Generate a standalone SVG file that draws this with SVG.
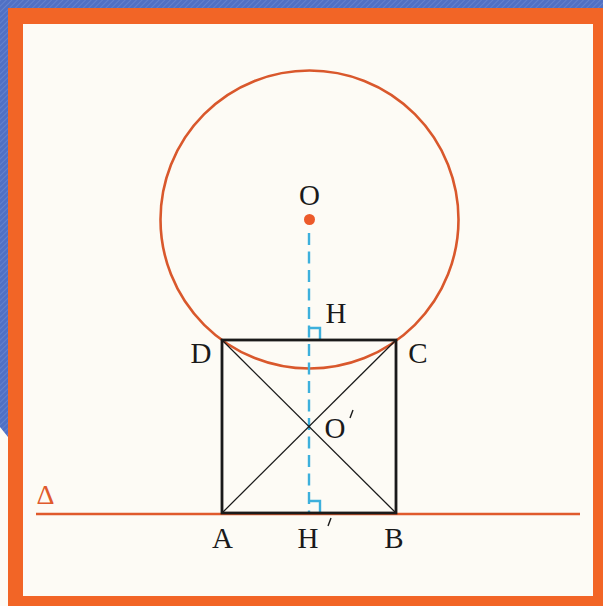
<svg xmlns="http://www.w3.org/2000/svg" width="603" height="606" viewBox="0 0 603 606">
<defs>
<pattern id="hatch" width="4" height="4" patternUnits="userSpaceOnUse" patternTransform="rotate(45)">
<rect width="4" height="4" fill="#5070c4"/>
<line x1="0" y1="0" x2="0" y2="4" stroke="#6a88d2" stroke-width="1.5"/>
</pattern>
<style>
.lbl{font-family:"Liberation Serif","Times New Roman",serif;font-size:29px;fill:#1a1a1a}
.sq{fill:none;stroke:#1a1a1a;stroke-width:2.8}
.diag{stroke:#1a1a1a;stroke-width:1.3}
.blue{fill:none;stroke:#3db0dc;stroke-width:2.4}
</style>
</defs>
<rect width="603" height="606" fill="#fdfbf5"/>
<polygon points="0,0 603,0 603,8 8,8 8,437 0,427" fill="url(#hatch)"/>
<path d="M8,8 H603 V606 H8 Z M23,24 V596 H593 V24 Z" fill="#f26526" fill-rule="evenodd"/>
<rect x="23" y="24" width="570" height="572" fill="#fdfbf5"/>

<g id="delta">
<line x1="36" y1="514" x2="580" y2="514" stroke="#e05a2c" stroke-width="2.6"/>
<text x="45.5" y="504" text-anchor="middle" font-family="'Liberation Serif','Times New Roman',serif" font-size="28" fill="#e05a2c">Δ</text>
</g>

<g id="circle">
<circle cx="309.5" cy="219.5" r="149" fill="none" stroke="#d9582c" stroke-width="2.6"/>
</g>

<g id="connectors">
<line x1="309" y1="233" x2="309" y2="513" class="blue" stroke-dasharray="12 6.5"/>
<polyline points="309,328 320,328 320,340" class="blue" stroke-width="2"/>
<polyline points="309,501 320,501 320,513" class="blue" stroke-width="2"/>
<line x1="222" y1="340" x2="396" y2="513" class="diag"/>
<line x1="396" y1="340" x2="222" y2="513" class="diag"/>
</g>

<g id="square">
<rect x="222" y="340" width="174" height="173" class="sq"/>
</g>

<g id="O">
<circle cx="309.5" cy="219.5" r="5.5" fill="#ec5a2a"/>
<text x="309.5" y="205" text-anchor="middle" class="lbl">O</text>
</g>
<g id="H"><text x="336" y="323" text-anchor="middle" class="lbl">H</text></g>
<g id="D"><text x="201" y="363" text-anchor="middle" class="lbl">D</text></g>
<g id="C"><text x="418" y="363" text-anchor="middle" class="lbl">C</text></g>
<g id="Oprime"><text x="335" y="438" text-anchor="middle" class="lbl">O</text>
<line x1="353" y1="410" x2="350" y2="418" stroke="#1a1a1a" stroke-width="1.4"/></g>
<g id="A"><text x="222.5" y="548" text-anchor="middle" class="lbl">A</text></g>
<g id="Hprime"><text x="308" y="548" text-anchor="middle" class="lbl">H</text>
<line x1="331" y1="518" x2="328" y2="526" stroke="#1a1a1a" stroke-width="1.4"/></g>
<g id="B"><text x="394" y="548" text-anchor="middle" class="lbl">B</text></g>
</svg>
